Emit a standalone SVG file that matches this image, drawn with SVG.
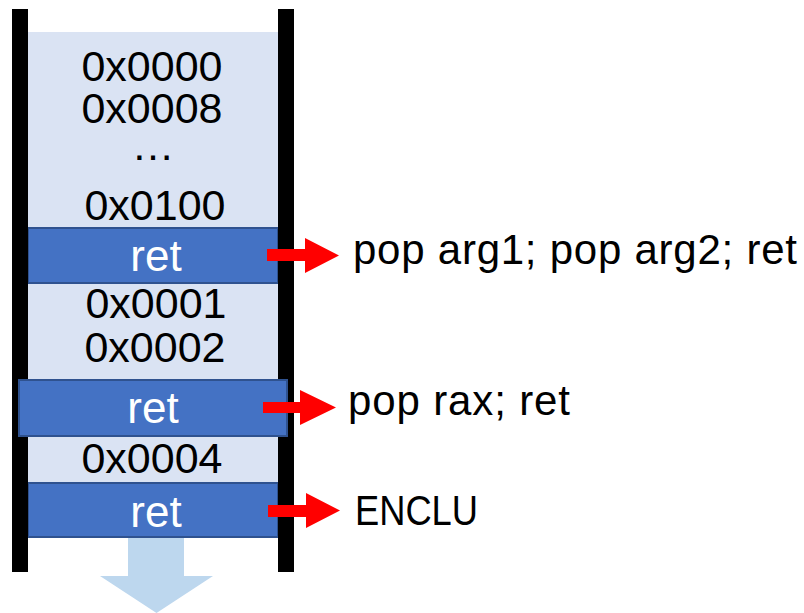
<svg xmlns="http://www.w3.org/2000/svg" width="804" height="613" viewBox="0 0 804 613">
<style>
.addr{font-family:"Liberation Sans",Arial,sans-serif;font-size:43px;fill:#000;text-anchor:middle}
.ret{font-family:"Liberation Sans",Arial,sans-serif;font-size:44px;fill:#fff;text-anchor:middle}
.lbl{font-family:"Liberation Sans",Arial,sans-serif;font-size:42px;fill:#000}
.box{fill:#4472C4;stroke:#2F528F;stroke-width:2}
.bar{fill:#000}
.red{fill:#FF0000}
</style>
<rect width="804" height="613" fill="#fff"/>
<g id="stack">
  <rect x="28" y="32" width="250" height="505" fill="#DAE3F3"/>
  <text class="addr" x="152" y="81">0x0000</text>
  <text class="addr" x="152" y="123">0x0008</text>
  <text class="addr" x="153" y="160" font-size="30">…</text>
  <text class="addr" x="155" y="220">0x0100</text>
  <text class="addr" x="156" y="318">0x0001</text>
  <text class="addr" x="155" y="362">0x0002</text>
  <text class="addr" x="152" y="473">0x0004</text>
</g>
<g id="downArrow">
  <polygon points="128,537 184,537 184,576 213,576 156.5,613 100,576 128,576" fill="#BDD7EE"/>
</g>
<g id="ret1">
  <rect class="box" x="28" y="228" width="250" height="55"/>
  <text class="ret" x="156" y="271">ret</text>
</g>
<g id="ret3">
  <rect class="box" x="28" y="483" width="250" height="54"/>
  <text class="ret" x="156" y="527">ret</text>
</g>
<g id="bars">
  <rect class="bar" x="12" y="9" width="16" height="563"/>
  <rect class="bar" x="278" y="9" width="16" height="563"/>
</g>
<g id="ret2">
  <rect class="box" x="19" y="380" width="268" height="56"/>
  <text class="ret" x="153" y="423">ret</text>
</g>
<g id="connectors">
  <polygon class="red" points="267,249 305,249 305,238 339,255.5 305,273 305,261 267,261"/>
  <polygon class="red" points="263,402 300,402 300,390 336,407.5 300,425 300,413 263,413"/>
  <polygon class="red" points="268,505 306,505 306,493 340,510.5 306,528 306,517 268,517"/>
</g>
<g id="label1"><text class="lbl" x="353" y="264" textLength="444">pop arg1; pop arg2; ret</text></g>
<g id="label2"><text class="lbl" x="348" y="415" textLength="222">pop rax; ret</text></g>
<g id="label3"><text class="lbl" x="355" y="525" font-size="38" textLength="123" lengthAdjust="spacingAndGlyphs">ENCLU</text></g>
</svg>
